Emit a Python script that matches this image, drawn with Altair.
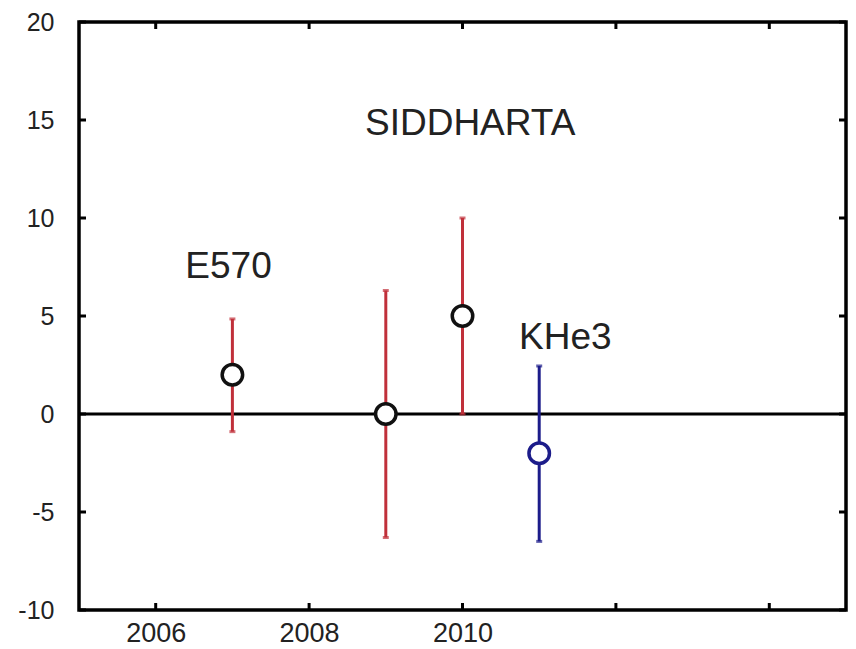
import altair as alt
import pandas as pd

# Data
years = [2007, 2009, 2010, 2011]
values = [2.0, 0.0, 5.0, -2.0]
lower = [-0.9, -6.3, 0.0, -6.5]
upper = [4.85, 6.3, 10.0, 2.45]
group = ["E570", "E570", "E570", "KHe3"]

x_tick_values = [2006, 2008, 2010, 2012, 2014]
x_label_values = [2006, 2008, 2010]
y_tick_values = [-10, -5, 0, 5, 10, 15, 20]

label_text = ["SIDDHARTA", "E570", "KHe3"]
label_x = [2010.1, 2006.95, 2011.34]
label_y = [14.8, 7.5, 3.9]

W, H = 767, 588
FONT = "Liberation Sans"

df = pd.DataFrame({"year": years, "value": values, "lo": lower, "hi": upper, "group": group})
xt = pd.DataFrame({"t": x_tick_values})
yt = pd.DataFrame({"t": y_tick_values})
labels = pd.DataFrame({"text": label_text, "x": label_x, "y": label_y})

xscale = alt.Scale(domain=[2005, 2015], nice=False, zero=False)
yscale = alt.Scale(domain=[-10, 20], nice=False, zero=False)

color_scale = alt.Scale(domain=["E570", "KHe3"], range=["#c0303a", "#1c1c8a"])

base = alt.Chart(df)

# axes (drawn on an invisible layer)
axes = alt.Chart(yt).mark_point(opacity=0).encode(
    x=alt.X("t:Q", scale=xscale,
            axis=alt.Axis(values=x_label_values, labelExpr="'' + datum.value", title=None,
                          ticks=False, grid=False, domain=False, labelFont=FONT,
                          labelFontSize=27, labelColor="#222222", labelPadding=10)),
    y=alt.Y("t:Q", scale=yscale,
            axis=alt.Axis(values=y_tick_values, labelExpr="'' + datum.value", title=None,
                          ticks=False, grid=False, domain=False, labelFont=FONT,
                          labelFontSize=25, labelColor="#222222", labelPadding=25)),
)

zero_line = alt.Chart(pd.DataFrame({"z": [0]})).mark_rule(color="black", strokeWidth=3).encode(
    y=alt.Y("z:Q", scale=yscale), x=alt.value(0), x2=alt.value(W)
)

# inward ticks
tick_len = 7
xt_bottom = alt.Chart(xt).mark_rule(color="black", strokeWidth=3).encode(
    x=alt.X("t:Q", scale=xscale), y=alt.value(H - tick_len), y2=alt.value(H))
xt_top = alt.Chart(xt).mark_rule(color="black", strokeWidth=3).encode(
    x=alt.X("t:Q", scale=xscale), y=alt.value(0), y2=alt.value(tick_len))
yt_left = alt.Chart(yt).mark_rule(color="black", strokeWidth=3).encode(
    y=alt.Y("t:Q", scale=yscale), x=alt.value(0), x2=alt.value(tick_len))
yt_right = alt.Chart(yt).mark_rule(color="black", strokeWidth=3).encode(
    y=alt.Y("t:Q", scale=yscale), x=alt.value(W - tick_len), x2=alt.value(W))

bars = base.mark_rule(strokeWidth=3).encode(
    x=alt.X("year:Q", scale=xscale),
    y=alt.Y("lo:Q", scale=yscale),
    y2="hi:Q",
    color=alt.Color("group:N", scale=color_scale, legend=None),
)
caps_lo = base.mark_tick(orient="horizontal", size=6, thickness=3).encode(
    x=alt.X("year:Q", scale=xscale), y=alt.Y("lo:Q", scale=yscale),
    color=alt.Color("group:N", scale=color_scale, legend=None))
caps_hi = base.mark_tick(orient="horizontal", size=6, thickness=3).encode(
    x=alt.X("year:Q", scale=xscale), y=alt.Y("hi:Q", scale=yscale),
    color=alt.Color("group:N", scale=color_scale, legend=None))

stroke_scale = alt.Scale(domain=["E570", "KHe3"], range=["#111111", "#1c1c8a"])
points = base.mark_point(shape="circle", filled=False, fill="white", fillOpacity=1,
                         size=420, strokeWidth=3.5, opacity=1).encode(
    x=alt.X("year:Q", scale=xscale),
    y=alt.Y("value:Q", scale=yscale),
    stroke=alt.Stroke("group:N", scale=stroke_scale, legend=None),
)

texts = alt.Chart(labels).mark_text(font=FONT, fontSize=37, color="#222222",
                                    align="center", baseline="middle").encode(
    x=alt.X("x:Q", scale=xscale), y=alt.Y("y:Q", scale=yscale), text="text:N")

chart = alt.layer(
    axes, zero_line, bars, caps_lo, caps_hi, points, texts,
    xt_bottom, xt_top, yt_left, yt_right,
).properties(
    width=W, height=H,
    autosize=alt.AutoSizeParams(type="none"),
    padding={"left": 71, "top": 14, "right": 2, "bottom": 37},
    background="white",
).configure_view(
    stroke="black", strokeWidth=3.5
)

chart.save("out.html", embed_options={"renderer": "svg", "actions": False})
